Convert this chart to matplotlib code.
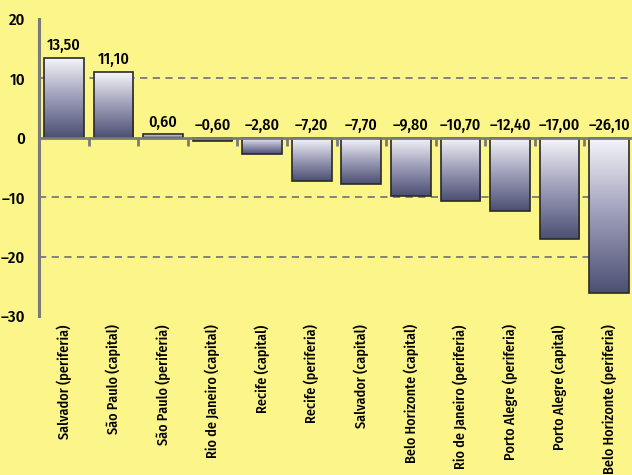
import numpy as np
import matplotlib
matplotlib.use("Agg")
import matplotlib.pyplot as plt
from matplotlib.colors import LinearSegmentedColormap

categories = ["Salvador (periferia)", "São Paulo (capital)", "São Paulo (periferia)",
              "Rio de Janeiro (capital)", "Recife (capital)", "Recife (periferia)",
              "Salvador (capital)", "Belo Horizonte (capital)", "Rio de Janeiro (periferia)",
              "Porto Alegre (periferia)", "Porto Alegre (capital)", "Belo Horizonte (periferia)"]
values = [13.50, 11.10, 0.60, -0.60, -2.80, -7.20, -7.70, -9.80, -10.70, -12.40, -17.00, -26.10]
yticks = [20, 10, 0, -10, -20, -30]

bg = "#fcf58a"
plt.rcParams['font.family'] = ['Fira Sans Condensed', 'DejaVu Sans']

fig = plt.figure(figsize=(6.32, 4.75), dpi=100, facecolor=bg)
ax = fig.add_axes([39/632, 1-316/475, (634-39)/632, (316-19)/475])
ax.set_facecolor(bg)

x = np.arange(len(values))

for g in [10, -10, -20]:
    ax.axhline(g, color="#7a7a7a", lw=1.3, ls=(0, (4, 3)), zorder=1)

cmap = LinearSegmentedColormap.from_list("g", ["#4b4f72", "#9c9db8", "#f6f6fa"])
grad = np.linspace(0, 1, 256).reshape(-1, 1)
bars = ax.bar(x, values, width=0.8, color="none", edgecolor="#2a2a2a", lw=1.2, zorder=3)
for b in bars:
    x0 = b.get_x(); w = b.get_width(); y0 = b.get_y(); h = b.get_height()
    lo, hi = min(y0, y0+h), max(y0, y0+h)
    im = ax.imshow(grad, extent=[x0, x0+w, lo, hi], origin="lower", cmap=cmap,
                   aspect="auto", zorder=2, interpolation="bilinear")
    im.set_clip_path(b)

ax.set_xlim(-0.5, len(values)-0.5)
ax.set_ylim(-30, 20)

ax.axhline(0, color="#7a7a7a", lw=2, zorder=4)
ax.vlines(x[:-1]+0.5, -1.3, 0, color="#7a7a7a", lw=2, zorder=4)

for xi, v in zip(x, values):
    lab = f"{v:.2f}".replace(".", ",").replace("-", "–")
    ypos = v + 0.7 if v > 0 else 0.8
    ax.text(xi, ypos, lab, ha="center", va="bottom", fontsize=11.5,
            fontweight="medium", zorder=5)

for s in ["top", "right", "bottom"]:
    ax.spines[s].set_visible(False)
ax.spines["left"].set_color("#7a7a7a")
ax.spines["left"].set_linewidth(2.2)

ax.set_yticks(yticks)
ax.set_yticklabels([str(t).replace("-", "–") for t in yticks], fontsize=12,
                   fontweight="medium")
ax.tick_params(axis="y", length=0, pad=10)
ax.set_xticks(x)
ax.set_xticklabels(categories, rotation=90, fontsize=10.2, va="top", ha="center",
                   fontweight="medium")
ax.tick_params(axis="x", length=0, pad=6)

fig.savefig("out.png", dpi=100, facecolor=bg)
